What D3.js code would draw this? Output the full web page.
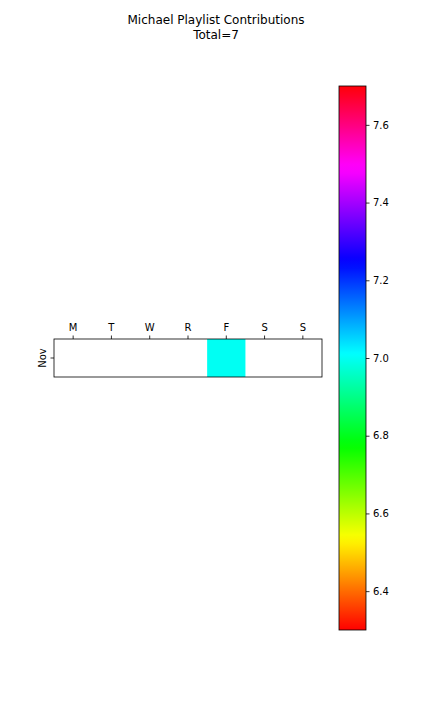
<!DOCTYPE html>
<html><head><meta charset="utf-8">
<script src="https://cdn.jsdelivr.net/npm/d3@7"></script>
<style>body{margin:0;background:#fff}svg{display:block}text{font-family:"DejaVu Sans",sans-serif;fill:#000}</style>
</head><body>
<svg id="c" width="432" height="720"></svg>
<script>
const days = ["M","T","W","R","F","S","S"];
const months = ["Nov"];
const values = [[null,null,null,null,7,null,null]];
const cbTicks = [6.4,6.6,6.8,7.0,7.2,7.4,7.6];
const cbDomain = [6.3, 7.7];
const titleLines = ["Michael Playlist Contributions","Total=7"];

// matplotlib 'hsv' colormap segment data
const hsvR=[[0,1],[0.158730,1],[0.174603,0.96875],[0.333333,0.03125],[0.349206,0],[0.666667,0],[0.682540,0.03125],[0.841270,0.96875],[0.857143,1],[1,1]];
const hsvG=[[0,0],[0.158730,0.9375],[0.174603,1],[0.507937,1],[0.666667,0.0625],[0.682540,0],[1,0]];
const hsvB=[[0,0],[0.333333,0],[0.349206,0.0625],[0.507937,1],[0.841270,1],[0.857143,0.96875],[1,0.03125]];
function seg(s,t){for(let i=1;i<s.length;i++){if(t<=s[i][0]){const a=s[i-1],b=s[i];return a[1]+(b[1]-a[1])*(t-a[0])/(b[0]-a[0]);}}return s[s.length-1][1];}
function cmap(t){t=Math.max(0,Math.min(1,t));return d3.rgb(seg(hsvR,t)*255,seg(hsvG,t)*255,seg(hsvB,t)*255).formatHex();}

const svg=d3.select("#c");
const norm=d3.scaleLinear().domain(cbDomain).range([0,1]);

// title
svg.selectAll("text.title").data(titleLines).join("text").attr("class","title")
  .attr("x",216).attr("y",(d,i)=>24+i*15).attr("text-anchor","middle").attr("font-size",12).text(d=>d);

// heatmap
const L=54,R=322,T=339,B=377;
const x=d3.scaleBand().domain(d3.range(days.length)).range([L,R]);
const y=d3.scaleBand().domain(months).range([T,B]);
const g=svg.append("g");
values.forEach((row,ri)=>{
  g.selectAll(null).data(row.map((v,ci)=>({v,ci}))).join("rect")
    .filter(d=>d.v!=null)
    .attr("x",d=>x(d.ci)).attr("y",y(months[ri])).attr("width",x.bandwidth()).attr("height",y.bandwidth())
    .attr("fill",d=>cmap(norm(d.v)));
});
g.append("rect").attr("x",L).attr("y",T).attr("width",R-L).attr("height",B-T).attr("fill","none").attr("stroke","#000").attr("stroke-width",0.8);
// top ticks
const xa=svg.append("g");
days.forEach((d,i)=>{
  const cx=x(i)+x.bandwidth()/2;
  xa.append("line").attr("x1",cx).attr("x2",cx).attr("y1",T).attr("y2",T-3.5).attr("stroke","#000").attr("stroke-width",0.8);
  xa.append("text").attr("x",cx).attr("y",T-8.5).attr("text-anchor","middle").attr("font-size",10).text(d);
});
months.forEach(m=>{
  const cy=y(m)+y.bandwidth()/2;
  svg.append("line").attr("x1",L).attr("x2",L-3.5).attr("y1",cy).attr("y2",cy).attr("stroke","#000").attr("stroke-width",0.8);
  svg.append("text").attr("transform",`translate(${L-8},${cy}) rotate(-90)`).attr("text-anchor","middle").attr("font-size",10).text(m);
});

// colorbar
const CL=339,CR=366,CT=86,CB=630;
const cy=d3.scaleLinear().domain(cbDomain).range([CB,CT]);
const grad=svg.append("defs").append("linearGradient").attr("id","cbg").attr("x1",0).attr("y1",1).attr("x2",0).attr("y2",0);
d3.range(0,201).forEach(i=>{const t=i/200;grad.append("stop").attr("offset",t).attr("stop-color",cmap(t));});
svg.append("rect").attr("x",CL).attr("y",CT).attr("width",CR-CL).attr("height",CB-CT).attr("fill","url(#cbg)").attr("stroke","#000").attr("stroke-width",0.8);
const ax=d3.axisRight(cy).tickValues(cbTicks).tickFormat(d3.format(".1f")).tickSize(3.5).tickPadding(3.5);
const ag=svg.append("g").attr("transform",`translate(${CR},0)`).call(ax);
ag.select(".domain").remove();
ag.selectAll("text").attr("font-size",10).style("font-family","DejaVu Sans").attr("fill","#000");
ag.selectAll("line").attr("stroke","#000").attr("stroke-width",0.8);
</script>
</body></html>
